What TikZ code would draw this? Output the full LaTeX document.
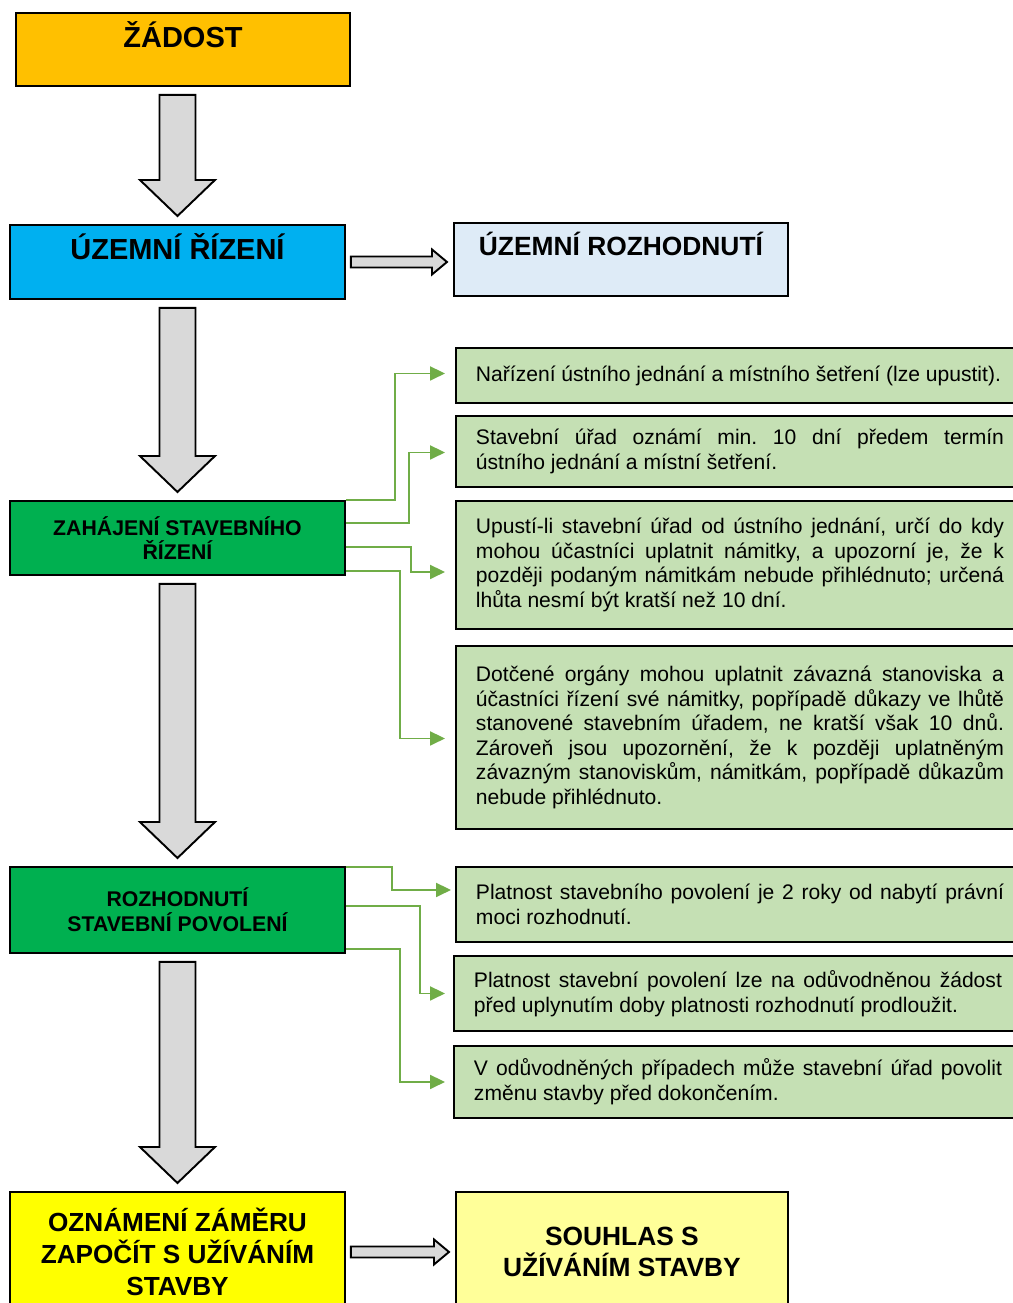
\documentclass[tikz,border=0pt]{standalone}
\usepackage{fontspec}
\setmainfont{Liberation Sans}
\usetikzlibrary{calc,arrows.meta}
\definecolor{zadostorange}{HTML}{FFC000}
\definecolor{uzemniblue}{HTML}{00B0F0}
\definecolor{paleblue}{HTML}{DEEBF7}
\definecolor{stavgreen}{HTML}{00B050}
\definecolor{notegreen}{HTML}{C5E0B4}
\definecolor{linkgreen}{HTML}{70AD47}
\definecolor{arrowgray}{HTML}{D9D9D9}
\definecolor{uzivyellow}{HTML}{FFFF00}
\definecolor{paleyellow}{HTML}{FFFF99}
\newlength{\pxu}\setlength{\pxu}{0.02cm}
\frenchspacing

\tikzset{
  box/.style={draw=black, line width=1.1pt, rectangle, anchor=north west, inner sep=0pt, align=center},
  note/.style={draw=black, line width=1.1pt, fill=notegreen, rectangle, anchor=north west,
    inner xsep=20*\pxu, inner ysep=2pt, text width=528*\pxu, align=justify,
    font=\fontsize{12}{14}\selectfont},
  link/.style={draw=linkgreen, line width=0.9pt, -{Triangle[length=8.5pt,width=8pt]}},
  blockarrow/.style={draw=black, fill=arrowgray, line width=1.1pt, line join=miter}
}

% big arrow down between two boxes
\newcommand{\downblock}[2]{%
  \draw[blockarrow] ($(#1.south -| #2.north)+(-18,8)$) -- ($(#2.north)+(-18,-44)$) -- ++(-19.5,0)
    -- ($(#2.north)+(0,-8)$) -- ($(#2.north)+(37.5,-44)$) -- ++(-19.5,0)
    -- ($(#1.south -| #2.north)+(18,8)$) -- cycle;}
% big arrow to the right
\newcommand{\rightblock}[2]{%
  \draw[blockarrow] ($(#1.east)+(5,-5.5)$) -- ($(#2.west |- #1.east)+(-21,-5.5)$) -- ++(0,-7)
    -- ($(#2.west |- #1.east)+(-6,0)$) -- ($(#2.west |- #1.east)+(-21,12.5)$) -- ++(0,-7)
    -- ($(#1.east)+(5,5.5)$) -- cycle;}

\begin{document}
\begin{tikzpicture}[x=0.02cm, y=-0.02cm]
    \useasboundingbox (0,0) rectangle (1013,1303);

    \node[box, fill=zadostorange, minimum width=334*\pxu, minimum height=73*\pxu,
      text height=0.72em, text depth=17*\pxu, font=\bfseries\fontsize{16.5}{20}\selectfont] (zadost) at (15,12) {ŽÁDOST};
    \node[box, fill=uzemniblue, minimum width=335*\pxu, minimum height=74*\pxu,
      text height=0.72em, text depth=18*\pxu, font=\bfseries\fontsize{16.5}{20}\selectfont] (uzemni) at (9,224) {ÚZEMNÍ ŘÍZENÍ};
    \node[box, fill=paleblue, minimum width=334*\pxu, minimum height=73*\pxu,
      text height=0.72em, text depth=21*\pxu, font=\bfseries\fontsize{15}{18}\selectfont] (uzrozh) at (453,222) {ÚZEMNÍ ROZHODNUTÍ};
    \node[box, fill=stavgreen, minimum width=335*\pxu, minimum height=74*\pxu,
      font=\bfseries\fontsize{12.1}{13.6}\selectfont] (zahajeni) at (9,500) {ZAHÁJENÍ STAVEBNÍHO\\ŘÍZENÍ};
    \node[box, fill=stavgreen, minimum width=335*\pxu, minimum height=86*\pxu,
      font=\bfseries\fontsize{12.1}{14}\selectfont] (rozhodnuti) at (9,866) {ROZHODNUTÍ\\STAVEBNÍ POVOLENÍ};
    \node[box, fill=uzivyellow, minimum width=335*\pxu, minimum height=120*\pxu,
      font=\bfseries\fontsize{14.9}{18.1}\selectfont] (oznameni) at (9,1191) {OZNÁMENÍ ZÁMĚRU\\ZAPOČÍT S UŽÍVÁNÍM\\STAVBY};
    \node[box, fill=paleyellow, minimum width=332*\pxu, minimum height=120*\pxu,
      font=\bfseries\fontsize{15}{17.6}\selectfont] (souhlas) at (455,1191) {SOUHLAS S\\UŽÍVÁNÍM STAVBY};

    \node[note, minimum height=55*\pxu] (n1) at (455,347) {Nařízení ústního jednání a místního šetření (lze upustit).};
    \node[note, minimum height=71*\pxu] (n2) at (455,415) {Stavební úřad oznámí min. 10 dní předem termín\linebreak ústního jednání a místní šetření.};
    \node[note, minimum height=128*\pxu] (n3) at (455,500) {Upustí-li stavební úřad od ústního jednání, určí do kdy\linebreak mohou účastníci uplatnit námitky, a upozorní je, že k\linebreak později podaným námitkám nebude přihlédnuto; určená\linebreak lhůta nesmí být kratší než 10 dní.};
    \node[note, minimum height=183*\pxu] (n4) at (455,645) {Dotčené orgány mohou uplatnit závazná stanoviska a\linebreak účastníci řízení své námitky, popřípadě důkazy ve lhůtě\linebreak stanovené stavebním úřadem, ne kratší však 10 dnů.\linebreak Zároveň jsou upozornění, že k později uplatněným\linebreak závazným stanoviskům, námitkám, popřípadě důkazům\linebreak nebude přihlédnuto.};
    \node[note, minimum height=75*\pxu] (n5) at (455,866) {Platnost stavebního povolení je 2 roky od nabytí právní\linebreak moci rozhodnutí.};
    \node[note, minimum height=75*\pxu] (n6) at (453,955) {Platnost stavební povolení lze na odůvodněnou žádost\linebreak před uplynutím doby platnosti rozhodnutí prodloužit.};
    \node[note, minimum height=72*\pxu] (n7) at (453,1045) {V odůvodněných případech může stavební úřad povolit\linebreak změnu stavby před dokončením.};

    \downblock{zadost}{uzemni}
    \downblock{uzemni}{zahajeni}
    \downblock{zahajeni}{rozhodnuti}
    \downblock{rozhodnuti}{oznameni}
    \rightblock{uzemni}{uzrozh}
    \rightblock{oznameni}{souhlas}

    \draw[link] (zahajeni.north east) -- ++(49,0) |- ($(n1.west)+(-10,-2)$);
    \draw[link] ($(zahajeni.north east)+(0,23)$) -- ++(63,0) |- ($(n2.west)+(-10,1)$);
    \draw[link] ($(zahajeni.north east)+(0,47)$) -- ++(65,0) |- ($(n3.west)+(-10,7)$);
    \draw[link] ($(zahajeni.north east)+(0,71)$) -- ++(54,0) |- ($(n4.west)+(-10,1)$);
    \draw[link] ($(rozhodnuti.north east)+(0,1)$) -- ++(46,0) |- ($(n5.west)+(-4,-14.5)$);
    \draw[link] ($(rozhodnuti.north east)+(0,40)$) -- ++(74,0) |- ($(n6.west)+(-8,0)$);
    \draw[link] ($(rozhodnuti.north east)+(0,83)$) -- ++(54,0) |- ($(n7.west)+(-8,0)$);
\end{tikzpicture}
\end{document}
